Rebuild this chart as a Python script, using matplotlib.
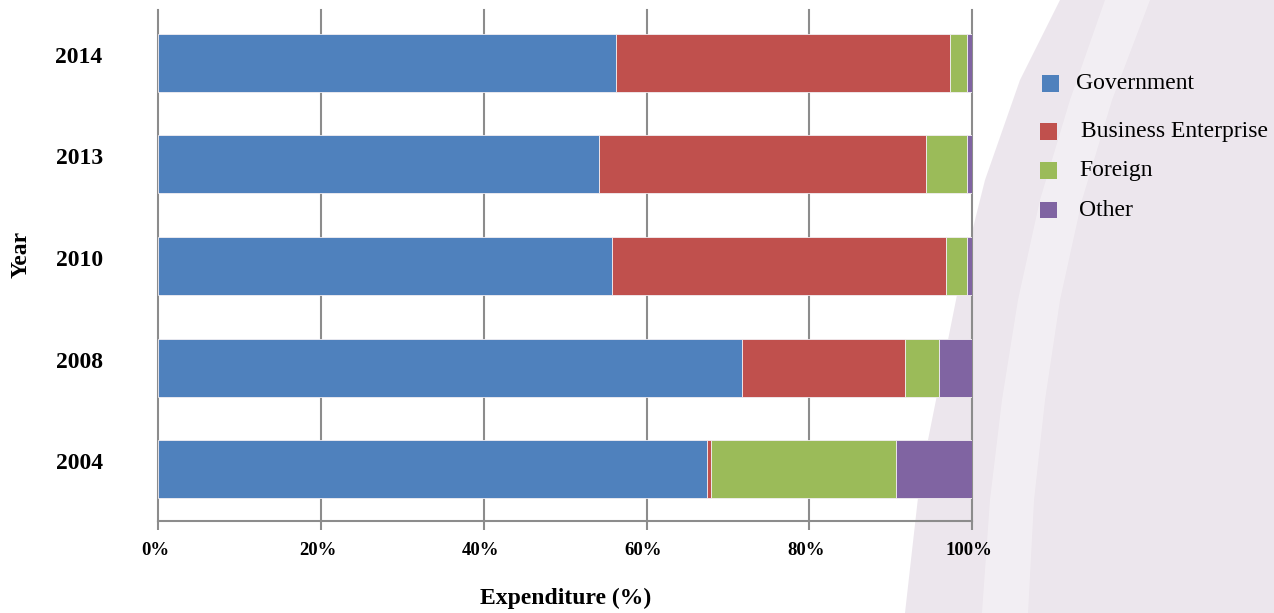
import matplotlib
matplotlib.use('Agg')
import matplotlib.pyplot as plt
from matplotlib.patches import Rectangle, Polygon
from matplotlib.transforms import ScaledTranslation
import numpy as np

# ---- data ----
years = ['2004', '2008', '2010', '2013', '2014']
government = [67.4, 71.7, 55.7, 54.1, 56.2]
business = [0.5, 20.1, 41.1, 40.2, 41.1]
foreign = [22.7, 4.2, 2.6, 5.1, 2.1]
other = [9.4, 4.0, 0.6, 0.6, 0.6]
series_names = ['Government', 'Business Enterprise', 'Foreign', 'Other']
x_ticks = [0, 20, 40, 60, 80, 100]
x_ticklabels = ['0%', '20%', '40%', '60%', '80%', '100%']

colors = ['#4F81BD', '#C0504D', '#9BBB59', '#8064A2']
W, H = 1274, 613

plt.rcParams['font.family'] = ['Liberation Serif', 'DejaVu Serif']

fig = plt.figure(figsize=(W / 100, H / 100), dpi=100)
fig.patch.set_facecolor('white')


def fp(pts):
    return [(x / W, 1 - y / H) for x, y in pts]


# decorative background (lavender swoosh on the right)
lav = Polygon(fp([(1060, 0), (1020, 80), (985, 180), (960, 280), (940, 380),
                  (920, 480), (905, 613), (1274, 613), (1274, 0)]),
              closed=True, transform=fig.transFigure, facecolor='#ECE6ED',
              edgecolor='none', zorder=-10)
fig.add_artist(lav)
band_left = [(1105, 0), (1070, 100), (1040, 200), (1018, 300), (1002, 400), (990, 500), (982, 613)]
band_right = [(1150, 0), (1112, 100), (1082, 200), (1060, 300), (1045, 400), (1034, 500), (1028, 613)]
band = Polygon(fp(band_left + band_right[::-1]), closed=True, transform=fig.transFigure,
               facecolor='white', alpha=0.35, edgecolor='none', zorder=-9)
fig.add_artist(band)

ax = fig.add_axes([158.3 / W, 1 - 521 / H, (972 - 158.3) / W, (521 - 10) / H])
ax.patch.set_alpha(0)

y = np.arange(len(years))
left = np.zeros(len(years))
for vals, name, c in zip([government, business, foreign, other], series_names, colors):
    ax.barh(y, vals, left=left, height=0.57, color=c, edgecolor='#f2eef2',
            linewidth=0.6, label=name, zorder=3)
    left = left + np.array(vals)

ax.set_xlim(0, 100)
ax.set_ylim(-0.51, 4.52)
ax.set_xticks(x_ticks)
ax.set_xticklabels(x_ticklabels, fontweight='bold')
ax.set_yticks(y)
ax.set_yticklabels(years, fontweight='bold')

grid_c = '#8c8c8c'
ax.xaxis.grid(True, color=grid_c, linewidth=1.5, zorder=1)
ax.set_axisbelow(True)
for gl in ax.get_xgridlines():
    gl.set_clip_on(False)
for s in ['left', 'top', 'right']:
    ax.spines[s].set_visible(False)
ax.spines['bottom'].set_color(grid_c)
ax.spines['bottom'].set_linewidth(1.5)

ax.tick_params(axis='x', direction='out', length=6.5, width=1.5, color=grid_c,
               pad=8.5, labelsize=13.5)
ax.tick_params(axis='y', length=0, pad=40, labelsize=17)
off = ScaledTranslation(0, 0.08, fig.dpi_scale_trans)
for lab in ax.get_yticklabels():
    lab.set_transform(lab.get_transform() + off)
xoff = ScaledTranslation(-0.03, 0, fig.dpi_scale_trans)
for lab in ax.get_xticklabels():
    lab.set_transform(lab.get_transform() + xoff)

fig.text(566 / W, 1 - 598 / H, 'Expenditure (%)', ha='center', va='center',
         fontsize=17, fontweight='bold')
fig.text(21.5 / W, 1 - 254 / H, 'Year', ha='center', va='center', rotation=90,
         fontsize=17, fontweight='bold')

# legend (manual placement to follow the reference)
leg_marker_x = [1041.7, 1040, 1040, 1040]
leg_marker_y = [75, 123.3, 162.3, 201.7]
leg_text_x = [1075.7, 1080.7, 1079, 1079]
for i, (name, c) in enumerate(zip(series_names, colors)):
    mx, my = leg_marker_x[i], leg_marker_y[i]
    fig.add_artist(Rectangle((mx / W, 1 - (my + 16.7) / H), 16.8 / W, 16.7 / H,
                             transform=fig.transFigure, facecolor=c, edgecolor='none'))
    fig.text(leg_text_x[i] / W, 1 - (my + 8.5) / H, name, ha='left', va='center',
             fontsize=17)

fig.savefig('out.png', dpi=100)
